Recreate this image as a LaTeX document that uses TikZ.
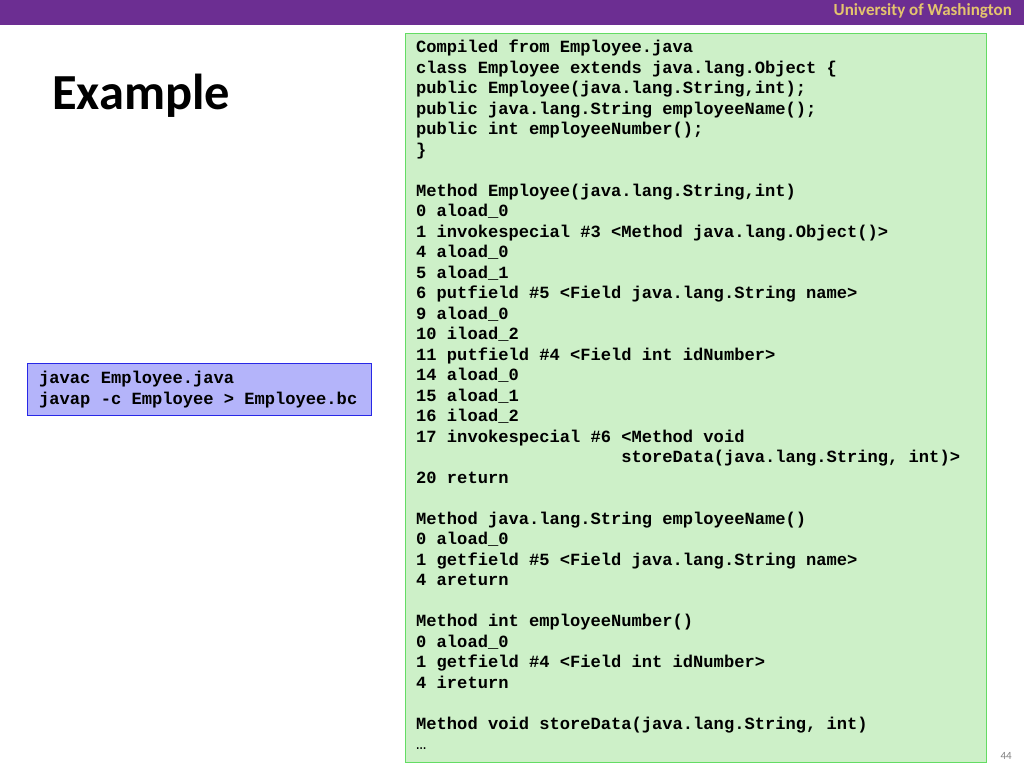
\documentclass[tikz,border=0pt]{standalone}
\usepackage{fontspec}
\setmainfont{Carlito}
\newfontfamily\codefont{Liberation Mono}
\definecolor{uwpurple}{RGB}{108,46,146}
\definecolor{uwgold}{RGB}{228,196,110}
\definecolor{codegreen}{RGB}{205,240,200}
\definecolor{codegreenline}{RGB}{100,220,100}
\definecolor{cmdfill}{RGB}{180,180,250}
\definecolor{cmdline}{RGB}{40,40,230}
\definecolor{pagegray}{RGB}{128,128,128}
\tikzset{
  boxshape/.style={draw, line width=1pt, rectangle, inner sep=0pt, anchor=north west},
  codetext/.style={inner sep=0pt, anchor=north west, align=left,
    font=\codefont\bfseries\fontsize{17.1}{20.5}\selectfont},
}
\begin{document}
\begin{tikzpicture}[x=1pt,y=-1pt]
\useasboundingbox[fill=white] (0,0) rectangle (1024,768);
\node[fill=uwpurple, inner sep=0pt, anchor=north west, minimum width=1024pt, minimum height=25pt] (header) at (0,0) {};
\node[anchor=base east, inner sep=0pt, text=uwgold, font=\bfseries\fontsize{17}{20}\selectfont] (uw) at (1012,16) {University of Washington};
\node[anchor=base west, inner sep=0pt, font=\bfseries\fontsize{50.5}{58}\selectfont] (title) at (52,109) {Example};
\node[boxshape, fill=codegreen, draw=codegreenline, minimum width=581pt, minimum height=729pt] (codebox) at (405,33) {};
\node[codetext] (code) at (416,40) {Compiled from Employee.java\\
class Employee extends java.lang.Object \{\\
public Employee(java.lang.String,int);\\
public java.lang.String employeeName();\\
public int employeeNumber();\\
\}\\
\mbox{}\\
Method Employee(java.lang.String,int)\\
0 aload\_0\\
1 invokespecial \#3 <Method java.lang.Object()>\\
4 aload\_0\\
5 aload\_1\\
6 putfield \#5 <Field java.lang.String name>\\
9 aload\_0\\
10 iload\_2\\
11 putfield \#4 <Field int idNumber>\\
14 aload\_0\\
15 aload\_1\\
16 iload\_2\\
17 invokespecial \#6 <Method void\\
\hphantom{xxxxxxxxxxxxxxxxxxxx}storeData(java.lang.String, int)>\\
20 return\\
\mbox{}\\
Method java.lang.String employeeName()\\
0 aload\_0\\
1 getfield \#5 <Field java.lang.String name>\\
4 areturn\\
\mbox{}\\
Method int employeeNumber()\\
0 aload\_0\\
1 getfield \#4 <Field int idNumber>\\
4 ireturn\\
\mbox{}\\
Method void storeData(java.lang.String, int)\\
{\mdseries …}};
\node[boxshape, fill=cmdfill, draw=cmdline, minimum width=344pt, minimum height=52pt] (cmdbox) at (27,363) {};
\node[codetext] (cmd) at (39,371) {javac Employee.java\\
javap -c Employee > Employee.bc};
\node[anchor=base east, inner sep=0pt, text=pagegray, font=\fontsize{11}{13}\selectfont] (page) at (1012,759) {44};
\end{tikzpicture}
\end{document}
